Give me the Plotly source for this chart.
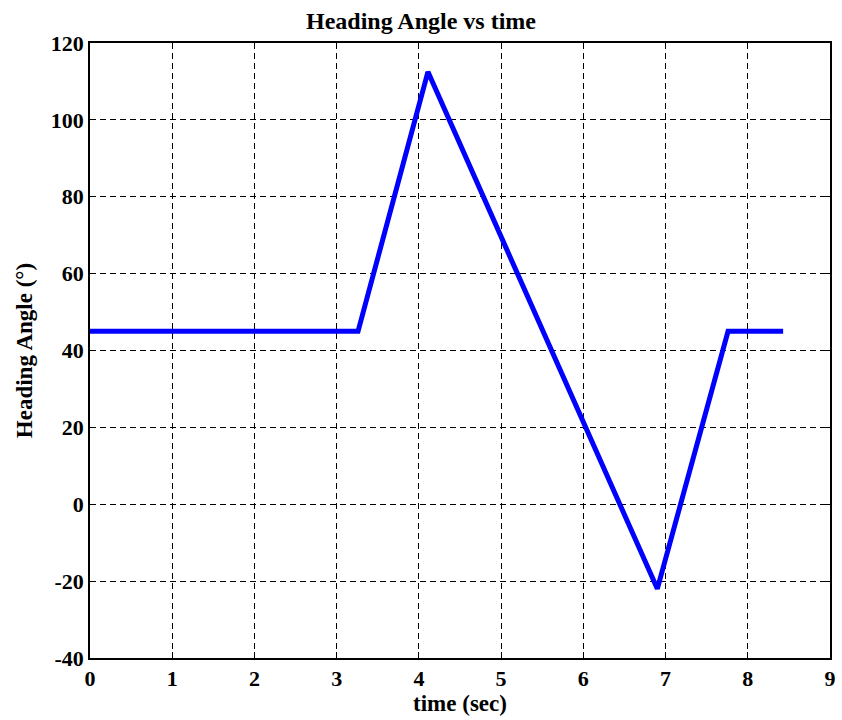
import plotly.graph_objects as go

time_sec = [0, 3.26, 4.11, 6.90, 7.76, 8.43]
heading_deg = [45, 45, 112.5, -22, 45, 45]

x_ticks = list(range(0, 10))
y_ticks = list(range(-40, 121, 20))

fig = go.Figure()
fig.add_trace(go.Scatter(x=time_sec, y=heading_deg, mode="lines",
                         line=dict(color="#0000ff", width=5), showlegend=False))

font = dict(family="Liberation Serif, Times New Roman, serif", color="black")
axis_common = dict(showline=True, linecolor="black", linewidth=1.5, mirror="ticks",
                   ticks="inside", ticklen=6, tickcolor="black",
                   showgrid=True, gridcolor="black", griddash="6px,4px", gridwidth=1.4,
                   zeroline=False, automargin=False, tickfont=dict(size=22, **font))

fig.update_layout(
    width=842, height=720,
    margin=dict(l=90, r=12, t=43, b=62, autoexpand=False),
    paper_bgcolor="white", plot_bgcolor="white",
    title=dict(text="<b>Heading Angle vs time</b>", x=0.5, xanchor="center",
               y=0.972, yanchor="middle", font=dict(size=24, **font)),
    xaxis=dict(range=[0, 9], tickvals=x_ticks,
               ticktext=[f"<b>{v}</b>" for v in x_ticks],
               title=dict(text="<b>time (sec)</b>", font=dict(size=23, **font), standoff=2),
               **axis_common),
    yaxis=dict(range=[-40, 120], tickvals=y_ticks,
               ticktext=[f"<b>{v}</b>" for v in y_ticks],
               title=dict(text="<b>Heading Angle (°)</b>", font=dict(size=23, **font), standoff=12),
               **axis_common),
)

fig.write_html("out.html", config={"displayModeBar": False},
               post_script="document.body.style.margin='0px';document.body.style.overflow='hidden';")
